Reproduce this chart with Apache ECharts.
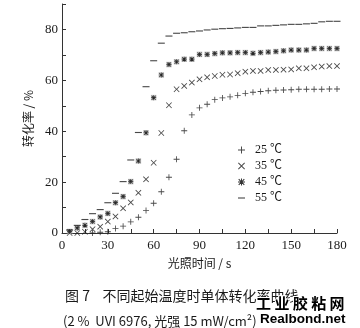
<!DOCTYPE html>
<html>
<head>
<meta charset="utf-8">
<script src="https://cdn.jsdelivr.net/npm/echarts@6/dist/echarts.min.js"></script>
<style>
  html, body { margin: 0; padding: 0; background: #fff; }
  #chart { width: 360px; height: 328px; }
</style>
</head>
<body>
<div id="chart"></div>
<script>
// Irradiation time, s
const times = [5, 10, 15, 20, 25, 30, 35, 40, 45, 50, 55, 60, 65, 70, 75, 80, 85, 90,
  95, 100, 105, 110, 115, 120, 125, 130, 135, 140, 145, 150, 155, 160, 165, 170, 175, 180];

// Monomer conversion, % (one value per time point)
const conv25 = [null, null, null, 0, 0.3, 0.5, 1.8, 2.7, 4.4, 6.2, 8.8, 11.7, 16.2, 21.9, 29, 40.2, 46.4, 49.2,
  50.6, 52.4, 53.1, 53.5, 54.1, 54.9, 55.3, 55.6, 55.9, 56.1, 56.2, 56.3, 56.5, 56.5, 56.5, 56.5, 56.6, 56.6];
const conv35 = [0, 0, 0.5, 1.5, 2.5, 4.5, 6.5, 9.7, 12, 15.8, 21.1, 27.6, 39.3, 50.2, 56.5, 57.8, 59.1, 60.4,
  61.2, 61.7, 62.2, 62.3, 62.8, 63.4, 63.7, 63.7, 64.1, 64.1, 64.2, 64.3, 64.7, 64.7, 65.1, 65.4, 65.6, 65.6];
const conv45 = [0.6, 2, 3, 4.5, 6.3, 7.7, 11.9, 14.3, 20.2, 28.3, 39.4, 53.2, 62.1, 66.2, 67.3, 68.3, 68.3, 70.2,
  70.2, 70.5, 70.8, 70.8, 70.9, 70.9, 70.6, 70.9, 71.1, 71.3, 71.6, 71.9, 71.9, 71.9, 72.5, 72.5, 72.5, 72.5];
const conv55 = [1.2, 3, 5.3, 7.6, 9.2, 11.9, 15.6, 20.2, 28.7, 39.5, 57.5, 67.7, 74.6, 77.4, 78.5, 78.7, 79.1, 79.4,
  79.8, 80.1, 80.3, 80.4, 80.6, 80.8, 80.8, 81.4, 81.4, 81.6, 81.8, 82, 82, 82.2, 82.4, 83, 83.2, 83.2];

const seriesNames = ['25 ℃', '35 ℃', '45 ℃', '55 ℃'];

// Marker shapes, all drawn inside a 10x10 box (corner moves fix the box)
const BOX = 'M0,0M10,10';
const plusPath = 'path://' + BOX + 'M4.3,0H5.7V4.3H10V5.7H5.7V10H4.3V5.7H0V4.3H4.3Z';
const crossPath = 'path://' + BOX + 'M0,1L1,0L5,4L9,0L10,1L6,5L10,9L9,10L5,6L1,10L0,9L4,5Z';
const squarePath = 'path://' + BOX + 'M0,0H10V10H0Z';
const starPath = 'path://' + BOX +
  'M4.3,0H5.7V4.3H10V5.7H5.7V10H4.3V5.7H0V4.3H4.3Z' +
  'M0.5,1.5L1.5,0.5L5,4L8.5,0.5L9.5,1.5L6,5L9.5,8.5L8.5,9.5L5,6L1.5,9.5L0.5,8.5L4,5Z';
const dashPath = 'path://' + BOX + 'M0,4.2H10V5.8H0Z';

function pairs(values) {
  return times.map((t, i) => [t, values[i]]).filter(p => p[1] !== null);
}

const serif = '"Liberation Serif", "Noto Sans CJK SC", serif';
const cjk = '"Noto Sans CJK SC", "Liberation Serif", serif';
const ink = '#1a1a1a';

const chart = echarts.init(document.getElementById('chart'), null, { renderer: 'canvas' });

function markerSeries(name, values, symbol, size, color) {
  return {
    name: name,
    type: 'scatter',
    data: pairs(values),
    symbol: symbol,
    symbolSize: size,
    itemStyle: { color: color || ink },
    emphasis: { disabled: true },
    silent: true
  };
}

chart.setOption({
  animation: false,
  backgroundColor: '#fff',
  grid: { left: 62, right: 23, top: 4, bottom: 95, containLabel: false },
  title: [
    {
      text: '图 7    不同起始温度时单体转化率曲线',
      left: 60, top: 284,
      textStyle: { fontFamily: cjk, fontSize: 14, fontWeight: 'normal', color: ink }
    },
    {
      text: '(2 %  UVI 6976, 光强 15 mW/cm²)',
      left: 58, top: 310,
      textStyle: { fontFamily: cjk, fontSize: 13, fontWeight: 'normal', color: ink }
    },
    {
      text: '工 业 胶 粘 网',
      left: 251, top: 291,
      textStyle: { fontFamily: cjk, fontSize: 15, fontWeight: 'bold', color: '#000',
        textBorderColor: '#fff', textBorderWidth: 2 }
    },
    {
      text: 'Realbond.net',
      left: 255, top: 307,
      textStyle: { fontFamily: '"Liberation Sans", Arial, sans-serif', fontSize: 13.5, fontWeight: 'bold', color: '#000',
        textBorderColor: '#fff', textBorderWidth: 2 }
    }
  ],
  legend: {
    orient: 'vertical',
    left: 233, top: 138,
    itemWidth: 7, itemHeight: 7,
    itemGap: 2,
    selectedMode: false,
    data: [
      { name: seriesNames[0], icon: plusPath },
      { name: seriesNames[1], icon: crossPath },
      { name: seriesNames[2], icon: starPath, itemStyle: { color: '#000' } },
      { name: seriesNames[3], icon: dashPath }
    ],
    textStyle: { fontFamily: serif, fontSize: 12, color: ink, lineHeight: 14, padding: [0, 0, 0, 5] }
  },
  xAxis: {
    type: 'value',
    min: 0, max: 180, interval: 15,
    name: '光照时间 / s',
    nameLocation: 'middle',
    nameGap: 24,
    nameTextStyle: { fontFamily: cjk, fontSize: 12, color: ink },
    axisLine: { lineStyle: { color: '#333', width: 1 } },
    axisTick: { inside: true, length: 4, lineStyle: { color: '#333' } },
    axisLabel: {
      margin: 6,
      fontFamily: serif, fontSize: 13, color: ink,
      formatter: v => (v % 30 === 0 ? String(v) : '')
    },
    splitLine: { show: false }
  },
  yAxis: {
    type: 'value',
    min: 0, max: 90, interval: 10,
    name: '转化率 / %',
    nameLocation: 'middle',
    nameGap: 24,
    nameTextStyle: { fontFamily: cjk, fontSize: 12, color: ink },
    axisLine: { show: true, lineStyle: { color: '#333', width: 1 } },
    axisTick: { show: true, inside: true, length: 4, lineStyle: { color: '#333' } },
    axisLabel: {
      margin: 4,
      fontFamily: serif, fontSize: 13, color: ink,
      formatter: v => (v % 20 === 0 && v <= 80 ? String(v) : '')
    },
    splitLine: { show: false }
  },
  series: [
    markerSeries(seriesNames[0], conv25, plusPath, 6),
    markerSeries(seriesNames[1], conv35, crossPath, 6),
    // 45 ℃: light grey square behind a dark asterisk
    markerSeries(seriesNames[2], conv45, squarePath, 5.5, '#b4b4b4'),
    markerSeries(seriesNames[2] + ' ', conv45, starPath, 5, '#000'),
    markerSeries(seriesNames[3], conv55, dashPath, 7)
  ]
});
</script>
</body>
</html>
